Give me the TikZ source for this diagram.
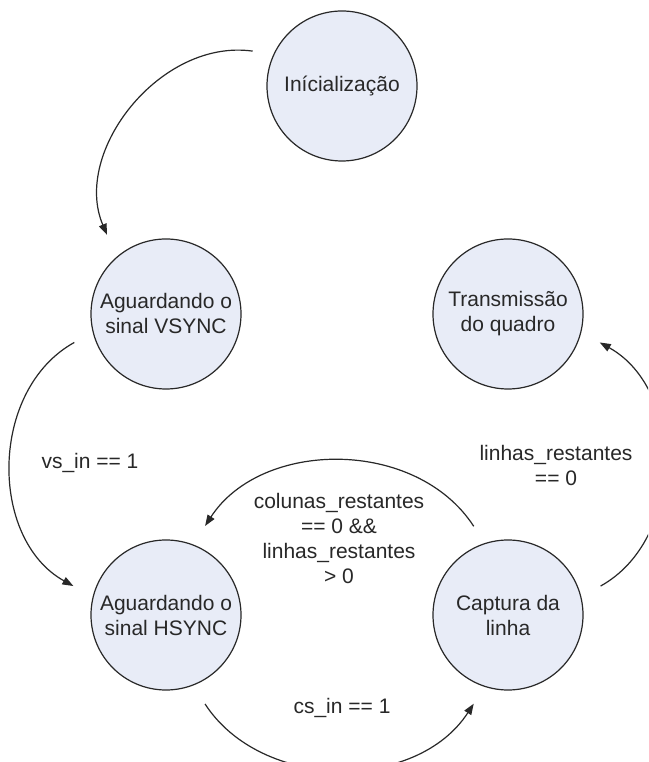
\documentclass[tikz,border=0pt]{standalone}
\usepackage{fontspec}
\setmainfont{Liberation Sans}
\usetikzlibrary{arrows.meta}
\definecolor{statefill}{RGB}{232,236,247}
\definecolor{ink}{RGB}{40,40,40}
\begin{document}
\begin{tikzpicture}[x=1pt,y=1pt,
  state/.style={circle, draw=ink, line width=1.2pt, fill=statefill,
    minimum size=150pt, inner sep=0pt, align=center, text=ink,
    font=\fontsize{21}{25}\selectfont},
  link/.style={draw=ink, line width=1.2pt, -{Triangle[length=11pt,width=8pt]}},
  cond/.style={align=center, text=ink, font=\fontsize{21}{25}\selectfont}]
\clip (0,0) rectangle (648,762);
\fill[white] (0,0) rectangle (648,762);

% states
\node[state] (init)  at (342,676) {Inícialização};
\node[state] (vsync) at (166,448) {Aguardando o\\sinal VSYNC};
\node[state] (tx)    at (508,448) {Transmissão\\do quadro};
\node[state] (hsync) at (166,147) {Aguardando o\\sinal HSYNC};
\node[state] (capt)  at (508,147) {Captura da\\linha};

% transitions
\draw[link, shorten <=21pt, shorten >=24pt]
  (init.155) to[out=172, in=113, looseness=1.14] (vsync.131);
\draw[link, shorten <=21pt, shorten >=22pt]
  (vsync.194) to[out=209, in=151, looseness=1.15] (hsync.166);
\draw[link, shorten <=20pt, shorten >=22pt]
  (capt.108) to[out=123, in=57, looseness=1.1] (hsync.69);
\draw[link, shorten <=22pt, shorten >=20pt]
  (hsync.291) to[out=303, in=237, looseness=1.1] (capt.252);
\draw[link, shorten <=22pt, shorten >=21pt]
  (capt.14) to[out=29, in=331, looseness=1.15] (tx.346);

% conditions
\node[cond] (cvs)  at (90,299)  {vs\_in == 1};
\node[cond] (ccol) at (339,224) {colunas\_restantes\\== 0 \&\&\\linhas\_restantes\\> 0};
\node[cond] (clin) at (556,297) {linhas\_restantes\\== 0};
\node[cond] (ccs)  at (342,54)  {cs\_in == 1};
\end{tikzpicture}
\end{document}
